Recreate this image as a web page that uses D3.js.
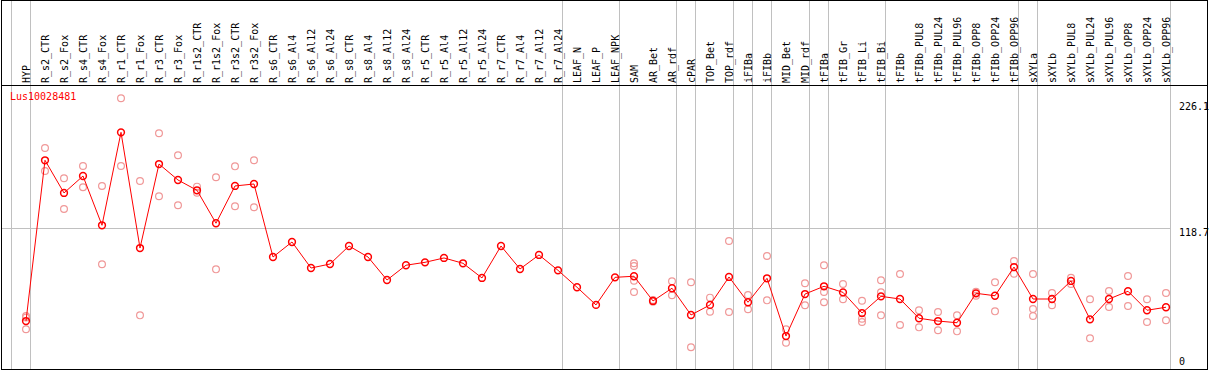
<!DOCTYPE html>
<html lang="en">
<head>
    <meta charset="UTF-8">
    <title>Lus10028481</title>
    <script src="https://d3js.org/d3.v7.min.js"></script>
    <style>
        body { margin: 0; background: #fff; }
        text { font-family: "DejaVu Sans Mono", monospace; font-size: 10px; }
    </style>
</head>
<body>
    <div id="chart"></div>

    <script>
        const geneId = "Lus10028481";

        const samples = ["HYP", "R_s2_CTR", "R_s2_Fox", "R_s4_CTR", "R_s4_Fox", "R_r1_CTR", "R_r1_Fox",
            "R_r3_CTR", "R_r3_Fox", "R_r1s2_CTR", "R_r1s2_Fox", "R_r3s2_CTR", "R_r3s2_Fox",
            "R_s6_CTR", "R_s6_Al4", "R_s6_Al12", "R_s6_Al24", "R_s8_CTR", "R_s8_Al4", "R_s8_Al12", "R_s8_Al24",
            "R_r5_CTR", "R_r5_Al4", "R_r5_Al12", "R_r5_Al24", "R_r7_CTR", "R_r7_Al4", "R_r7_Al12", "R_r7_Al24",
            "LEAF_N", "LEAF_P", "LEAF_NPK", "SAM", "AR_Bet", "AR_rdf", "cPAR", "TOP_Bet", "TOP_rdf",
            "iFIBa", "iFIBb", "MID_Bet", "MID_rdf", "tFIBa", "tFIB_Gr", "tFIB_Li", "tFIB_Bi", "tFIBb",
            "tFIBb_PUL8", "tFIBb_PUL24", "tFIBb_PUL96", "tFIBb_OPP8", "tFIBb_OPP24", "tFIBb_OPP96",
            "sXYLa", "sXYLb", "sXYLb_PUL8", "sXYLb_PUL24", "sXYLb_PUL96", "sXYLb_OPP8", "sXYLb_OPP24", "sXYLb_OPP96"];

        // mean expression per sample
        const means = [42.1, 174.9, 147.9, 161.9, 121.2, 198.0, 102.4, 171.8, 158.6, 150.1, 122.9, 153.7, 155.3,
            95.0, 107.4, 85.9, 89.2, 104.1, 95.0, 76.0, 88.2, 90.6, 94.2, 89.8, 77.7, 104.1, 85.1, 96.7, 84.0,
            70.0, 55.4, 78.2, 79.1, 58.7, 69.2, 47.1, 55.4, 78.5, 57.6, 77.4, 29.7, 64.4, 70.8, 65.8, 48.7, 62.5,
            60.3, 44.4, 42.1, 40.7, 65.0, 63.0, 86.7, 60.3, 60.3, 75.2, 43.5, 60.3, 66.7, 51.0, 53.5];

        // replicate values per sample (empty = not shown)
        const reps = [
            [46.3, 45.0, 35.3], [185.1, 166.1], [160.0, 134.7], [170.2, 152.6], [153.7, 89.0], [170.2, 226.1],
            [157.8, 46.8], [197.2, 145.2], [179.0, 137.7], [153.1, 148.1], [160.9, 84.8], [169.9, 136.9],
            [174.9, 136.1],
            [], [], [], [], [], [], [], [], [], [], [], [], [], [], [], [], [], [], [],
            [89.8, 87.6, 75.4, 66.1], [59.5, 58.1], [74.9, 63.4], [74.1, 20.4], [61.4, 49.8], [108.2, 49.6],
            [63.6, 51.8], [95.8, 59.2], [35.3, 24.2], [73.3, 55.1], [88.2, 66.1, 57.6], [72.7, 60.1],
            [58.9, 44.0, 41.3], [75.8, 65.8, 46.8], [81.0, 38.8], [51.0, 36.9], [49.6, 34.5], [46.8, 33.6],
            [66.3, 63.0], [74.1, 50.1], [91.7, 81.2], [81.0, 52.0, 46.3], [65.3, 55.1], [77.9, 72.7],
            [60.1, 27.8], [66.9, 53.7], [79.3, 54.5], [60.1, 41.3], [65.3, 42.7]
        ];

        // first sample of each group (gray separators)
        const groupStarts = ["HYP", "R_s2_CTR", "LEAF_N", "SAM", "cPAR", "TOP_Bet", "iFIBa", "iFIBb",
            "MID_Bet", "tFIBa", "tFIB_Gr", "tFIBb", "sXYLa", "sXYLb"];

        const yMax = 226.1;
        const yRef = 118.7;
        const yLabels = [yMax, yRef, 0];

        const W = 1209, H = 370;
        const headerY = 86;

        const svg = d3.select("#chart").append("svg")
            .attr("width", W)
            .attr("height", H);

        const x = d3.scaleBand()
            .domain(samples)
            .range([11.5, 11.5 + 19 * samples.length])
            .padding(0);
        const cx = name => x(name) + 14.5;

        const y = d3.scaleLinear()
            .domain([0, yMax])
            .range([372, 98.3]);

        // group separators
        svg.selectAll(".sep")
            .data(groupStarts.map(s => x(s)).concat([x.range()[1]]))
            .enter()
            .append("line")
            .attr("x1", d => d).attr("x2", d => d)
            .attr("y1", 0).attr("y2", H)
            .attr("stroke", "#c0c0c0");

        // reference line
        svg.append("line")
            .attr("x1", 1).attr("x2", x.range()[1])
            .attr("y1", Math.round(y(yRef)) + 0.5).attr("y2", Math.round(y(yRef)) + 0.5)
            .attr("stroke", "#c0c0c0");

        // frame and header rule
        svg.append("rect")
            .attr("x", 1.5).attr("y", 0.5)
            .attr("width", 1206).attr("height", 369)
            .attr("fill", "none")
            .attr("stroke", "#000");
        svg.append("line")
            .attr("x1", 1).attr("x2", 1208)
            .attr("y1", headerY - 0.5).attr("y2", headerY - 0.5)
            .attr("stroke", "#000");

        // sample labels
        svg.selectAll(".lab")
            .data(samples)
            .enter()
            .append("text")
            .attr("transform", d => `translate(${cx(d) + 3.5},83) rotate(-90)`)
            .attr("fill", "#000")
            .text(d => d);

        // value labels on the right
        svg.selectAll(".ylab")
            .data(yLabels)
            .enter()
            .append("text")
            .attr("x", 1179)
            .attr("y", d => Math.min(365, Math.max(109.5, y(d) + 8)))
            .attr("fill", "#000")
            .text(d => d);

        svg.append("text")
            .attr("x", 10).attr("y", 100)
            .attr("fill", "#ff0000")
            .text(geneId);

        // replicates
        const repPts = [];
        samples.forEach((s, i) => reps[i].forEach(v => repPts.push({ s: s, v: v })));
        svg.selectAll(".rep")
            .data(repPts)
            .enter()
            .append("circle")
            .attr("cx", d => cx(d.s))
            .attr("cy", d => y(d.v))
            .attr("r", 3.4)
            .attr("fill", "none")
            .attr("stroke", "#f09898")
            .attr("stroke-width", 1.2);

        // mean line
        const line = d3.line()
            .x((d, i) => cx(samples[i]))
            .y(d => y(d));
        svg.append("path")
            .datum(means)
            .attr("d", line)
            .attr("fill", "none")
            .attr("stroke", "#ff0000")
            .attr("stroke-width", 1);

        svg.selectAll(".mean")
            .data(means)
            .enter()
            .append("circle")
            .attr("cx", (d, i) => cx(samples[i]))
            .attr("cy", d => y(d))
            .attr("r", 3.4)
            .attr("fill", "none")
            .attr("stroke", "#ff0000")
            .attr("stroke-width", 1.5);
    </script>
</body>
</html>
